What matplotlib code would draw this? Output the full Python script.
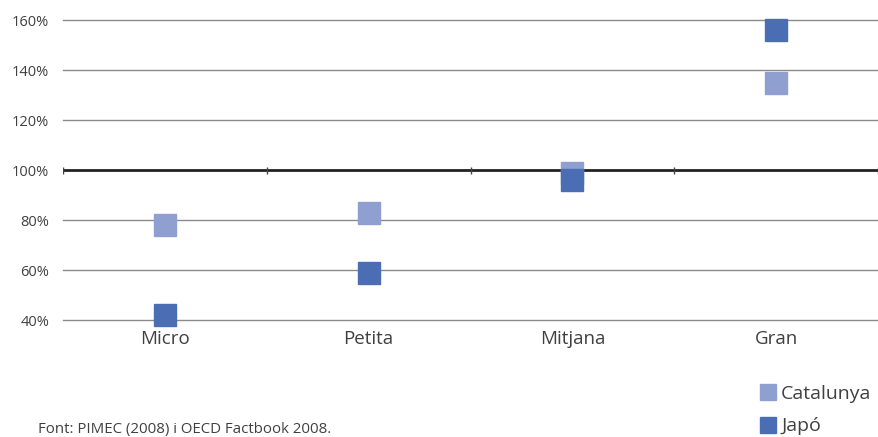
import matplotlib.pyplot as plt
import matplotlib.ticker as mticker

plt.rcParams['font.family'] = ['Open Sans', 'DejaVu Sans']

# dades
categories = ["Micro", "Petita", "Mitjana", "Gran"]
catalunya = [78, 83, 99, 135]
japo = [42, 59, 96, 156]
series_names = ["Catalunya", "Japó"]
yticks = [40, 60, 80, 100, 120, 140, 160]
source = "Font: PIMEC (2008) i OECD Factbook 2008."

col_cat = "#8f9fd0"
col_jap = "#4a6db4"
txt_col = "#404040"

fig = plt.figure(figsize=(8.79, 4.37), dpi=100)
ax = fig.add_axes([63 / 879, 1 - 320 / 437, 1 - 63 / 879 - 0.001, 300 / 437])

xs = [i + 0.5 for i in range(len(categories))]

# línies de graella
for v in yticks:
    if v == 100:
        continue
    ax.axhline(v, color="#8a8a8a", lw=1.0, zorder=1, clip_on=False)
ax.axhline(100, color="#222222", lw=2.0, zorder=2)
ax.vlines(range(len(categories) + 1), 98.6, 101.4, color="#444444", lw=1.0, zorder=2)

ax.plot(xs, catalunya, "s", color=col_cat, ms=16.5, ls="none", zorder=3,
        clip_on=False, label=series_names[0])
ax.plot(xs, japo, "s", color=col_jap, ms=16.5, ls="none", zorder=4,
        clip_on=False, label=series_names[1])

ax.set_xlim(0, len(categories))
ax.set_ylim(40, 160)
ax.set_yticks(yticks)
ax.yaxis.set_major_formatter(mticker.FuncFormatter(lambda v, p: f"{v:.0f}%"))
ax.tick_params(axis="y", length=0, pad=10, labelsize=10.5, labelcolor=txt_col)
ax.set_xticks(xs)
ax.set_xticklabels(categories)
ax.tick_params(axis="x", length=0, pad=7, labelsize=13.5, labelcolor=txt_col)
for s in ax.spines.values():
    s.set_visible(False)

handles = [plt.Line2D([], [], marker="s", ls="none", color=c, ms=12)
           for c in (col_cat, col_jap)]
fig.legend(handles, series_names, loc="upper left",
           bbox_to_anchor=(753 / 879, 1 - 377 / 437), frameon=False,
           fontsize=14, handlelength=0.7, handletextpad=0.35,
           labelspacing=0.75, labelcolor=txt_col, borderaxespad=0)

fig.text(38 / 879, 1 - 429 / 437, source, fontsize=10.8, color=txt_col, va="center")

fig.savefig("out.png", dpi=100)
